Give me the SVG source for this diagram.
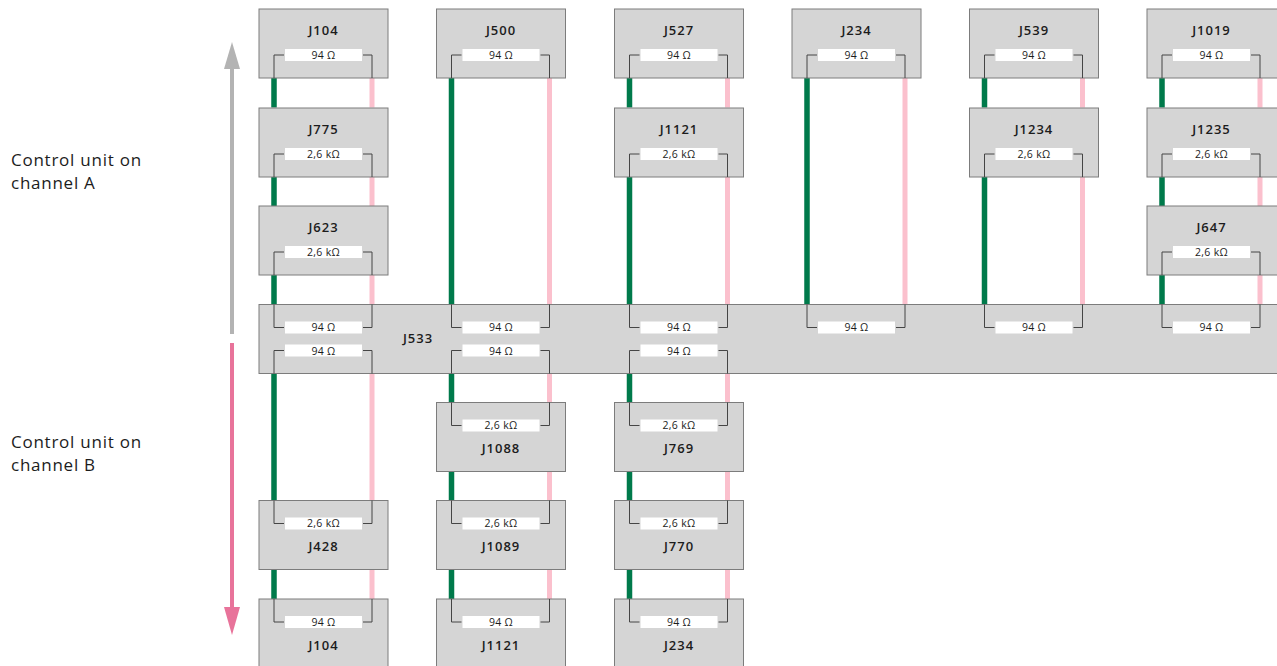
<svg xmlns="http://www.w3.org/2000/svg" width="1277" height="666" viewBox="0 0 1277 666">
<style>
text{font-family:"Open Sans","Liberation Sans",sans-serif;fill:#1c1c1c}
.box{fill:#d5d5d5;stroke:#7c7c7c;stroke-width:1}
.br{fill:none;stroke:#454545;stroke-width:1}
.lab{fill:#fff}
.name{font-size:13px;font-weight:600;text-anchor:middle;letter-spacing:1px}
.val{font-size:10.5px;text-anchor:middle;letter-spacing:.3px}
.side{font-size:17px;letter-spacing:.75px}
.g{stroke:#007a4b;stroke-width:5.5;fill:none}
.p{stroke:#fbc0cd;stroke-width:5;fill:none}
</style>
<defs>
<g id="upper"><path class="br" d="M15 69V46H25M104 46H113V69"/><rect class="lab" x="26" y="40" width="77" height="12"/></g>
<g id="lower"><path class="br" d="M15 0V23H25M104 23H113V0"/><rect class="lab" x="26" y="17" width="77" height="12"/></g>
</defs>
<g id="connectors">
<path class="g" d="M274 78V107.500M274 177V206M274 275V304.500M274 373.500V500.500M274 569.500V599M451.500 78V304.500M451.500 373.500V402.500M451.500 471.500V500.500M451.500 569.500V599M629.500 78V107.500M629.500 177V304.500M629.500 373.500V402.500M629.500 471.500V500.500M629.500 569.500V599M807 78V304.500M984.500 78V107.500M984.500 177V304.500M1162 78V107.500M1162 177V206M1162 275V304.500"/>
<path class="p" d="M372 78V107.500M372 177V206M372 275V304.500M372 373.500V500.500M372 569.500V599M549.500 78V304.500M549.500 373.500V402.500M549.500 471.500V500.500M549.500 569.500V599M727.500 78V107.500M727.500 177V304.500M727.500 373.500V402.500M727.500 471.500V500.500M727.500 569.500V599M905 78V304.500M1082.500 78V107.500M1082.500 177V304.500M1260 78V107.500M1260 177V206M1260 275V304.500"/>
</g>
<g id="arrow-a"><path d="M232 334V66" stroke="#b3b3b3" stroke-width="4" fill="none"/><path d="M232 42L240 69H224Z" fill="#b3b3b3"/></g>
<g id="arrow-b"><path d="M232 343V610" stroke="#e8739a" stroke-width="4" fill="none"/><path d="M232 635L240 607H224Z" fill="#e8739a"/></g>
<g id="label-a"><text class="side" x="11" y="166">Control unit on</text><text class="side" x="11" y="189">channel A</text></g>
<g id="label-b"><text class="side" x="11" y="448">Control unit on</text><text class="side" x="11" y="471">channel B</text></g>

<g id="J104a" transform="translate(259 9)"><rect class="box" width="129" height="69"/><use href="#upper"/><text class="name" x="64.500" y="25.500">J104</text><text class="val" x="64.500" y="50">94 Ω</text></g>
<g id="J500" transform="translate(436.500 9)"><rect class="box" width="129" height="69"/><use href="#upper"/><text class="name" x="64.500" y="25.500">J500</text><text class="val" x="64.500" y="50">94 Ω</text></g>
<g id="J527" transform="translate(614.500 9)"><rect class="box" width="129" height="69"/><use href="#upper"/><text class="name" x="64.500" y="25.500">J527</text><text class="val" x="64.500" y="50">94 Ω</text></g>
<g id="J234a" transform="translate(792 9)"><rect class="box" width="129" height="69"/><use href="#upper"/><text class="name" x="64.500" y="25.500">J234</text><text class="val" x="64.500" y="50">94 Ω</text></g>
<g id="J539" transform="translate(969.500 9)"><rect class="box" width="129" height="69"/><use href="#upper"/><text class="name" x="64.500" y="25.500">J539</text><text class="val" x="64.500" y="50">94 Ω</text></g>
<g id="J1019" transform="translate(1147 9)"><rect class="box" width="140" height="69"/><use href="#upper"/><text class="name" x="64.500" y="25.500">J1019</text><text class="val" x="64.500" y="50">94 Ω</text></g>

<g id="J775" transform="translate(259 108)"><rect class="box" width="129" height="69"/><use href="#upper"/><text class="name" x="64.500" y="25.500">J775</text><text class="val" x="64.500" y="50">2,6 kΩ</text></g>
<g id="J1121a" transform="translate(614.500 108)"><rect class="box" width="129" height="69"/><use href="#upper"/><text class="name" x="64.500" y="25.500">J1121</text><text class="val" x="64.500" y="50">2,6 kΩ</text></g>
<g id="J1234" transform="translate(969.500 108)"><rect class="box" width="129" height="69"/><use href="#upper"/><text class="name" x="64.500" y="25.500">J1234</text><text class="val" x="64.500" y="50">2,6 kΩ</text></g>
<g id="J1235" transform="translate(1147 108)"><rect class="box" width="140" height="69"/><use href="#upper"/><text class="name" x="64.500" y="25.500">J1235</text><text class="val" x="64.500" y="50">2,6 kΩ</text></g>

<g id="J623" transform="translate(259 206)"><rect class="box" width="129" height="69"/><use href="#upper"/><text class="name" x="64.500" y="25.500">J623</text><text class="val" x="64.500" y="50">2,6 kΩ</text></g>
<g id="J647" transform="translate(1147 206)"><rect class="box" width="140" height="69"/><use href="#upper"/><text class="name" x="64.500" y="25.500">J647</text><text class="val" x="64.500" y="50">2,6 kΩ</text></g>

<g id="J533">
<rect class="box" x="259" y="304.500" width="1030" height="69"/>
<text class="name" x="418" y="343">J533</text>
<use href="#lower" transform="translate(259 304.500)"/><text class="val" x="323.500" y="331">94 Ω</text>
<use href="#lower" transform="translate(436.500 304.500)"/><text class="val" x="501" y="331">94 Ω</text>
<use href="#lower" transform="translate(614.500 304.500)"/><text class="val" x="679" y="331">94 Ω</text>
<use href="#lower" transform="translate(792 304.500)"/><text class="val" x="856.500" y="331">94 Ω</text>
<use href="#lower" transform="translate(969.500 304.500)"/><text class="val" x="1034" y="331">94 Ω</text>
<use href="#lower" transform="translate(1147 304.500)"/><text class="val" x="1211.500" y="331">94 Ω</text>
<use href="#upper" transform="translate(259 304.500)"/><text class="val" x="323.500" y="355">94 Ω</text>
<use href="#upper" transform="translate(436.500 304.500)"/><text class="val" x="501" y="355">94 Ω</text>
<use href="#upper" transform="translate(614.500 304.500)"/><text class="val" x="679" y="355">94 Ω</text>
</g>

<g id="J1088" transform="translate(436.500 402.500)"><rect class="box" width="129" height="69"/><use href="#lower"/><text class="val" x="64.500" y="26.500">2,6 kΩ</text><text class="name" x="64.500" y="50">J1088</text></g>
<g id="J769" transform="translate(614.500 402.500)"><rect class="box" width="129" height="69"/><use href="#lower"/><text class="val" x="64.500" y="26.500">2,6 kΩ</text><text class="name" x="64.500" y="50">J769</text></g>
<g id="J428" transform="translate(259 500.500)"><rect class="box" width="129" height="69"/><use href="#lower"/><text class="val" x="64.500" y="26.500">2,6 kΩ</text><text class="name" x="64.500" y="50">J428</text></g>
<g id="J1089" transform="translate(436.500 500.500)"><rect class="box" width="129" height="69"/><use href="#lower"/><text class="val" x="64.500" y="26.500">2,6 kΩ</text><text class="name" x="64.500" y="50">J1089</text></g>
<g id="J770" transform="translate(614.500 500.500)"><rect class="box" width="129" height="69"/><use href="#lower"/><text class="val" x="64.500" y="26.500">2,6 kΩ</text><text class="name" x="64.500" y="50">J770</text></g>
<g id="J104b" transform="translate(259 599)"><rect class="box" width="129" height="69"/><use href="#lower"/><text class="val" x="64.500" y="27">94 Ω</text><text class="name" x="64.500" y="51">J104</text></g>
<g id="J1121b" transform="translate(436.500 599)"><rect class="box" width="129" height="69"/><use href="#lower"/><text class="val" x="64.500" y="27">94 Ω</text><text class="name" x="64.500" y="51">J1121</text></g>
<g id="J234b" transform="translate(614.500 599)"><rect class="box" width="129" height="69"/><use href="#lower"/><text class="val" x="64.500" y="27">94 Ω</text><text class="name" x="64.500" y="51">J234</text></g>
</svg>
